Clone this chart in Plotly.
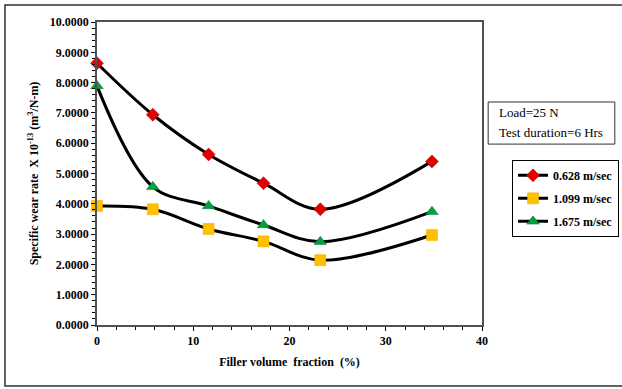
import plotly.graph_objects as go

filler = [0, 5.8, 11.6, 17.3, 23.2, 34.8]
s_0628 = [8.64, 6.94, 5.63, 4.68, 3.82, 5.40]
s_1099 = [3.93, 3.82, 3.17, 2.76, 2.14, 2.97]
s_1675 = [7.89, 4.56, 3.93, 3.30, 2.75, 3.74]
names = ["0.628 m/sec", "1.099 m/sec", "1.675 m/sec"]

serif = "Liberation Serif, Tinos, DejaVu Serif, serif"
fig = go.Figure()

styles = [
    (s_0628, "diamond", "#E00000", "#B00000", 10),
    (s_1099, "square", "#FFC000", "#E8A800", 11),
    (s_1675, "triangle-up", "#00A040", "#007A30", 11),
]
for i, (vals, sym, col, lcol, sz) in enumerate(styles):
    fig.add_trace(go.Scatter(
        x=filler, y=vals, name=names[i], mode="lines+markers",
        line=dict(color="black", width=3, shape="spline", smoothing=1),
        marker=dict(symbol=sym, color=col, size=sz, line=dict(color=lcol, width=0.5)),
        cliponaxis=False, legendgroup=str(i),
    ))

fig.update_layout(
    width=622, height=389,
    margin=dict(l=97, r=140, t=22, b=64, autoexpand=False),
    paper_bgcolor="white", plot_bgcolor="white",
    font=dict(family=serif, size=11, color="black"),
    showlegend=True,
    legend=dict(
        x=1.078, y=0.545, xanchor="left", yanchor="top",
        bordercolor="black", borderwidth=1, bgcolor="white",
        font=dict(family=serif, size=12, color="black", weight="bold"),
        tracegroupgap=4, itemwidth=30,
    ),
    xaxis=dict(
        range=[0, 40], dtick=10, tick0=0, showgrid=False, zeroline=False,
        showline=True, linecolor="#505050", linewidth=1.5, mirror=True,
        ticks="outside", ticklen=4, tickcolor="black",
        tickfont=dict(family=serif, size=12, weight="bold"),
        minor=dict(dtick=2, ticks="outside", ticklen=3, tickcolor="black", showgrid=False),
        title=dict(text="Filler volume  fraction  (%)", font=dict(family=serif, size=12, weight="bold"), standoff=10),
    ),
    yaxis=dict(
        range=[0, 10], dtick=1, tick0=0, tickformat=".4f", showgrid=False, zeroline=False,
        showline=True, linecolor="#505050", linewidth=1.5, mirror=True,
        ticks="outside", ticklen=4, tickcolor="black",
        tickfont=dict(family=serif, size=12, weight="bold"),
        minor=dict(dtick=0.2, ticks="outside", ticklen=3, tickcolor="black", showgrid=False),
        title=dict(text="Specific wear rate  X 10<sup>-13</sup> (m<sup>3</sup>/N-m)",
                   font=dict(family=serif, size=12, weight="bold"), standoff=9),
    ),
    shapes=[
        dict(type="rect", xref="paper", yref="paper", x0=-0.239, x1=1.40, y0=-0.201, y1=1.056,
             line=dict(color="#303030", width=1.5), fillcolor="rgba(0,0,0,0)", layer="below"),
        dict(type="rect", xref="paper", yref="paper", x0=1.016, x1=1.345, y0=0.597, y1=0.736,
             line=dict(color="#303030", width=1), fillcolor="white"),
    ],
    annotations=[
        dict(xref="paper", yref="paper", x=1.039, y=0.7, xanchor="left", yanchor="middle",
             text="Load=25 N", showarrow=False, font=dict(family=serif, size=13, color="black")),
        dict(xref="paper", yref="paper", x=1.039, y=0.635, xanchor="left", yanchor="middle",
             text="Test duration=6 Hrs", showarrow=False, font=dict(family=serif, size=13, color="black")),
    ],
)

fig.write_html("out.html")
